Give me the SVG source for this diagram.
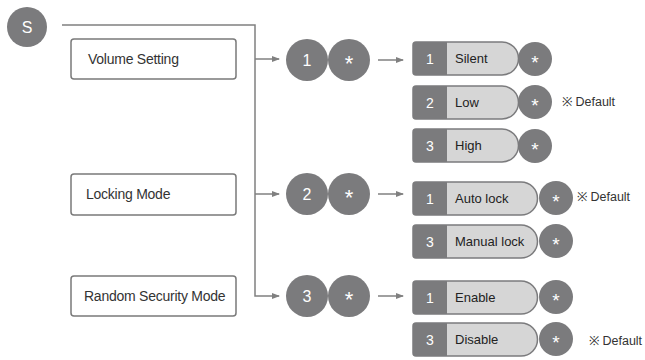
<svg xmlns="http://www.w3.org/2000/svg" width="645" height="360" viewBox="0 0 645 360">
<style>
.box{fill:#fff;stroke:#7a7a7a;stroke-width:1.5}
.lbl{font-family:"Liberation Sans",Arial,sans-serif;font-size:14px;fill:#333;letter-spacing:-0.25px}
.circ{fill:#7b7b7d}
.ct{font-family:"Liberation Sans",Arial,sans-serif;font-size:16px;fill:#fff;text-anchor:middle}
.st{font-family:"Liberation Sans",Arial,sans-serif;font-size:22px;fill:#fff;text-anchor:middle}
.ss{font-family:"Liberation Sans",Arial,sans-serif;font-size:19px;fill:#fff;text-anchor:middle}
.pill{fill:#d6d6d6;stroke:#7b7b7d;stroke-width:1.5}
.num{fill:#7b7b7d}
.pt{font-family:"Liberation Sans",Arial,sans-serif;font-size:13px;fill:#222}
.nt{font-family:"Liberation Sans",Arial,sans-serif;font-size:14px;fill:#fff;text-anchor:middle}
.def{font-family:"Liberation Sans",Arial,sans-serif;font-size:12.5px;fill:#333}
.ln{fill:none;stroke:#808080;stroke-width:1.5}
</style>
<defs>
<marker id="ah" markerWidth="8" markerHeight="6" refX="7" refY="3" orient="auto" markerUnits="userSpaceOnUse">
<path d="M0,0 L8,3 L0,6 Z" fill="#808080"/>
</marker>
</defs>
<g id="connectors">
<path class="ln" d="M62,25 H255 V296 H279" marker-end="url(#ah)"/>
<path class="ln" d="M255,59 H279" marker-end="url(#ah)"/>
<path class="ln" d="M255,194 H279" marker-end="url(#ah)"/>
<path class="ln" d="M378,60 H403" marker-end="url(#ah)"/>
<path class="ln" d="M378,194 H403" marker-end="url(#ah)"/>
<path class="ln" d="M378,296 H403" marker-end="url(#ah)"/>
</g>
<g id="start">
<circle class="circ" cx="27" cy="27" r="20"/>
<text class="ct" x="27" y="33">S</text>
</g>
<g id="volume-setting">
<rect class="box" x="71" y="39" width="165" height="40" rx="3"/>
<text class="lbl" x="88" y="64">Volume Setting</text>
</g>
<g id="locking-mode">
<rect class="box" x="71" y="174" width="165" height="41" rx="3"/>
<text class="lbl" x="86" y="199">Locking Mode</text>
</g>
<g id="random-security-mode">
<rect class="box" x="71" y="276" width="165" height="40" rx="3"/>
<text class="lbl" x="84" y="301">Random Security Mode</text>
</g>
<g id="key-1">
<circle class="circ" cx="307" cy="60" r="21"/><text class="ct" x="307" y="66">1</text>
<circle class="circ" cx="349" cy="60" r="21"/><text class="st" x="349" y="71">*</text>
</g>
<g id="key-2">
<circle class="circ" cx="307" cy="194" r="21"/><text class="ct" x="307" y="200">2</text>
<circle class="circ" cx="349" cy="194" r="21"/><text class="st" x="349" y="205">*</text>
</g>
<g id="key-3">
<circle class="circ" cx="307" cy="296" r="21"/><text class="ct" x="307" y="302">3</text>
<circle class="circ" cx="349" cy="296" r="21"/><text class="st" x="349" y="307">*</text>
</g>
<g id="opt-silent">
<path class="pill" d="M416,42 H502 A16.5,16.5 0 0 1 502,75 H416 Q413,75 413,72 V45 Q413,42 416,42 Z"/>
<path class="num" d="M416,42 H447 V75 H416 Q413,75 413,72 V45 Q413,42 416,42 Z"/>
<text class="nt" x="430" y="64">1</text><text class="pt" x="455" y="63">Silent</text>
<circle class="circ" cx="535" cy="59" r="17"/><text class="ss" x="535" y="69">*</text>
</g>
<g id="opt-low">
<path class="pill" d="M416,86 H502 A16.5,16.5 0 0 1 502,119 H416 Q413,119 413,116 V89 Q413,86 416,86 Z"/>
<path class="num" d="M416,86 H447 V119 H416 Q413,119 413,116 V89 Q413,86 416,86 Z"/>
<text class="nt" x="430" y="108">2</text><text class="pt" x="455" y="107">Low</text>
<circle class="circ" cx="535" cy="102" r="17"/><text class="ss" x="535" y="112">*</text>
<text class="def" x="562" y="106">※ Default</text>
</g>
<g id="opt-high">
<path class="pill" d="M416,129 H502 A16.5,16.5 0 0 1 502,162 H416 Q413,162 413,159 V132 Q413,129 416,129 Z"/>
<path class="num" d="M416,129 H447 V162 H416 Q413,162 413,159 V132 Q413,129 416,129 Z"/>
<text class="nt" x="430" y="151">3</text><text class="pt" x="455" y="150">High</text>
<circle class="circ" cx="535" cy="146" r="17"/><text class="ss" x="535" y="156">*</text>
</g>
<g id="opt-auto-lock">
<path class="pill" d="M416,182 H521 A16.5,16.5 0 0 1 521,215 H416 Q413,215 413,212 V185 Q413,182 416,182 Z"/>
<path class="num" d="M416,182 H447 V215 H416 Q413,215 413,212 V185 Q413,182 416,182 Z"/>
<text class="nt" x="430" y="204">1</text><text class="pt" x="455" y="203">Auto lock</text>
<circle class="circ" cx="556" cy="198" r="17"/><text class="ss" x="556" y="208">*</text>
<text class="def" x="577" y="201">※ Default</text>
</g>
<g id="opt-manual-lock">
<path class="pill" d="M416,225 H521 A16.5,16.5 0 0 1 521,258 H416 Q413,258 413,255 V228 Q413,225 416,225 Z"/>
<path class="num" d="M416,225 H447 V258 H416 Q413,258 413,255 V228 Q413,225 416,225 Z"/>
<text class="nt" x="430" y="247">3</text><text class="pt" x="455" y="246">Manual lock</text>
<circle class="circ" cx="556" cy="241" r="17"/><text class="ss" x="556" y="251">*</text>
</g>
<g id="opt-enable">
<path class="pill" d="M416,281 H521 A16.5,16.5 0 0 1 521,314 H416 Q413,314 413,311 V284 Q413,281 416,281 Z"/>
<path class="num" d="M416,281 H447 V314 H416 Q413,314 413,311 V284 Q413,281 416,281 Z"/>
<text class="nt" x="430" y="303">1</text><text class="pt" x="455" y="302">Enable</text>
<circle class="circ" cx="556" cy="297" r="17"/><text class="ss" x="556" y="307">*</text>
</g>
<g id="opt-disable">
<path class="pill" d="M416,323 H521 A16.5,16.5 0 0 1 521,356 H416 Q413,356 413,353 V326 Q413,323 416,323 Z"/>
<path class="num" d="M416,323 H447 V356 H416 Q413,356 413,353 V326 Q413,323 416,323 Z"/>
<text class="nt" x="430" y="345">3</text><text class="pt" x="455" y="344">Disable</text>
<circle class="circ" cx="556" cy="339" r="17"/><text class="ss" x="556" y="349">*</text>
<text class="def" x="589" y="345">※ Default</text>
</g>
</svg>
